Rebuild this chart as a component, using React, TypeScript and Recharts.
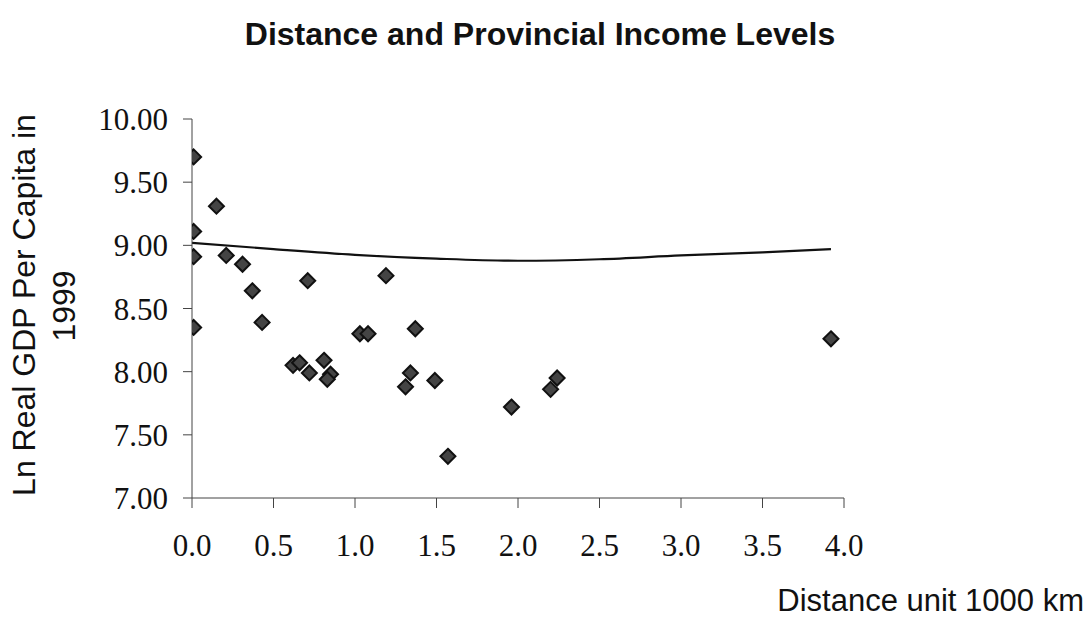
import React from "react";
import {
  ComposedChart,
  Scatter,
  Line,
  XAxis,
  YAxis,
  Label,
} from "recharts";

// provinces: distance (1000 km) vs ln real GDP per capita, 1999
const distance = [
  0.01, 0.15, 0.01, 0.01, 0.21, 0.31, 0.37, 0.71, 1.19, 0.43, 0.01, 1.03, 1.08,
  1.37, 0.62, 0.66, 0.72, 0.81, 0.85, 0.83, 1.31, 1.34, 1.49, 1.57, 1.96, 2.2,
  2.24, 3.92,
];
const lnGdp = [
  9.7, 9.31, 9.11, 8.91, 8.92, 8.85, 8.64, 8.72, 8.76, 8.39, 8.35, 8.3, 8.3,
  8.34, 8.05, 8.07, 7.99, 8.09, 7.98, 7.94, 7.88, 7.99, 7.93, 7.33, 7.72, 7.86,
  7.95, 8.26,
];

// fitted curve
const fitX = [0, 0.5, 1.0, 1.5, 2.0, 2.5, 3.0, 3.5, 3.92];
const fitY = [9.02, 8.97, 8.925, 8.895, 8.878, 8.89, 8.92, 8.945, 8.97];

const xTicks = [0, 0.5, 1, 1.5, 2, 2.5, 3, 3.5, 4];
const yTicks = [7, 7.5, 8, 8.5, 9, 9.5, 10];

const points = distance.map((x, i) => ({ x, y: lnGdp[i] }));
const curve = fitX.map((x, i) => ({ x, y: fitY[i] }));

const SANS = "'Liberation Sans', Arial, sans-serif";
const SERIF = "'Liberation Serif', 'Times New Roman', serif";
const AXIS = "#444";

const Diamond = (props: any) => {
  const { cx, cy } = props;
  if (cx == null || cy == null) return null;
  const r = 7.5;
  return (
    <path
      d={`M${cx},${cy - r}L${cx + r},${cy}L${cx},${cy + r}L${cx - r},${cy}Z`}
      fill="#444"
      stroke="#111"
      strokeWidth={2}
    />
  );
};

const XTitle = () => (
  <g>
    <text
      x={540}
      y={45}
      textAnchor="middle"
      fontFamily={SANS}
      fontWeight="bold"
      fontSize={32}
      fill="#111"
    >
      Distance and Provincial Income Levels
    </text>
    <text
      x={1084}
      y={611}
      textAnchor="end"
      fontFamily={SANS}
      fontSize={31}
      fill="#111"
    >
      Distance unit 1000 km
    </text>
  </g>
);

const YTitle = () => (
  <g fontFamily={SANS} fontSize={32} fill="#111" textAnchor="middle">
    <text transform="translate(35,305) rotate(-90)">
      Ln Real GDP Per Capita in
    </text>
    <text transform="translate(75,306) rotate(-90)">1999</text>
  </g>
);

export default function App() {
  return (
    <div style={{ position: "absolute", left: 0, top: 0 }}>
      <ComposedChart
        width={1088}
        height={623}
        margin={{ top: 119, right: 244, bottom: 65, left: 72 }}
      >
        <XAxis
          dataKey="x"
          type="number"
          domain={[0, 4]}
          ticks={xTicks}
          allowDataOverflow
          tickFormatter={(v: number) => v.toFixed(1)}
          height={60}
          stroke={AXIS}
          tickSize={10}
          tickMargin={26}
          tick={{ fill: "#111", fontSize: 31, fontFamily: SERIF }}
        >
          <Label content={XTitle} />
        </XAxis>
        <YAxis
          dataKey="y"
          type="number"
          domain={[7, 10]}
          ticks={yTicks}
          allowDataOverflow
          tickFormatter={(v: number) => v.toFixed(2)}
          width={120}
          stroke={AXIS}
          tickSize={9}
          tickMargin={15}
          tick={{ fill: "#111", fontSize: 31, fontFamily: SERIF }}
        >
          <Label content={YTitle} />
        </YAxis>
        <Line
          data={curve}
          dataKey="y"
          type="monotone"
          stroke="#111"
          strokeWidth={2.2}
          dot={false}
          activeDot={false}
          isAnimationActive={false}
        />
        <Scatter
          data={points}
          dataKey="y"
          shape={Diamond}
          isAnimationActive={false}
        />
      </ComposedChart>
    </div>
  );
}
